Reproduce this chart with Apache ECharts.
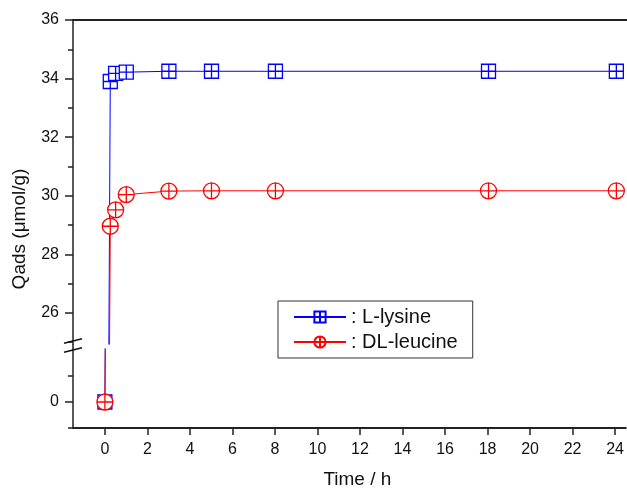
<!DOCTYPE html>
<html><head><meta charset="utf-8">
<script src="https://cdn.jsdelivr.net/npm/echarts@6/dist/echarts.min.js"></script>
<style>html,body{margin:0;padding:0;background:#fff}#c{width:627px;height:490px}</style>
</head><body><div id="c"></div>
<script>
// ---- data ----
const timeH   = [0, 0.25, 0.5, 1, 3, 5, 8, 18, 24];
const lysine  = [0, 33.9, 34.18, 34.22, 34.25, 34.25, 34.25, 34.25, 34.25];
const leucine = [0, 28.96, 29.52, 30.04, 30.16, 30.17, 30.17, 30.17, 30.17];
const seriesNames = ['L-lysine', 'DL-leucine'];
const xTicks = [0, 2, 4, 6, 8, 10, 12, 14, 16, 18, 20, 22, 24];
const yUpperMajor = [26, 28, 30, 32, 34, 36];
const yUpperMinor = [25, 27, 29, 31, 33, 35];
const yLowerMajor = [0];
const yLowerMinor = [-1, 1];
const xRange = [-1.5, 24.5];
const yUpperRange = [24.94, 36];
const yLowerRange = [-1, 2.04];

const FONT = "'Liberation Sans', Arial, sans-serif";
const AX = '#222';
const SQ = 'path://M0,0H10V10H0Z M5,0V10 M0,5H10';
const CI = 'path://M10,5C10,7.76 7.76,10 5,10C2.24,10 0,7.76 0,5C0,2.24 2.24,0 5,0C7.76,0 10,2.24 10,5Z M5,0V10 M0,5H10';

const lysPts = timeH.map((t, i) => [t, lysine[i]]);
const leuPts = timeH.map((t, i) => [t, leucine[i]]);

function yMajor(grid, range, ticks) {
  return {
    type: 'value', gridIndex: grid, position: 'left', min: range[0], max: range[1],
    axisLine: { show: true, onZero: false, lineStyle: { color: AX, width: 1.5 } },
    axisTick: { show: true, customValues: ticks, length: 8, lineStyle: { color: AX, width: 1.5 } },
    axisLabel: { show: true, customValues: ticks, fontSize: 16, color: '#111', fontFamily: FONT, margin: 14 },
    splitLine: { show: false }
  };
}
function yMinor(grid, range, ticks) {
  return {
    type: 'value', gridIndex: grid, position: 'left', min: range[0], max: range[1],
    axisLine: { show: false, onZero: false },
    axisTick: { show: true, customValues: ticks, length: 5, lineStyle: { color: AX, width: 1.5 } },
    axisLabel: { show: false },
    splitLine: { show: false }
  };
}
function mkSeries(name, pts, xi, yi, color, sym, size) {
  return {
    name: name, type: 'line', xAxisIndex: xi, yAxisIndex: yi, data: pts,
    symbol: sym, symbolSize: size, showAllSymbol: true, clip: true,
    lineStyle: { color: color, width: 1 },
    itemStyle: { color: '#fff', borderColor: color, borderWidth: 1.3 },
    emphasis: { disabled: true }, animation: false
  };
}

const chart = echarts.init(document.getElementById('c'), null, { renderer: 'canvas' });
chart.setOption({
  animation: false,
  backgroundColor: '#fff',
  textStyle: { fontFamily: FONT },
  grid: [
    { left: 73, top: 20, width: 555, height: 324 },
    { left: 73, top: 349, width: 555, height: 79 }
  ],
  xAxis: [
    { type: 'value', gridIndex: 0, position: 'top', min: xRange[0], max: xRange[1],
      axisLine: { show: true, onZero: false, lineStyle: { color: AX, width: 2 } },
      axisTick: { show: false }, axisLabel: { show: false }, splitLine: { show: false } },
    { type: 'value', gridIndex: 1, position: 'bottom', min: xRange[0], max: xRange[1],
      axisLine: { show: true, onZero: false, lineStyle: { color: AX, width: 2 } },
      axisTick: { show: true, customValues: xTicks, length: 7, lineStyle: { color: AX, width: 1.5 } },
      axisLabel: { show: true, customValues: xTicks, fontSize: 16, color: '#111', fontFamily: FONT, margin: 14 },
      splitLine: { show: false },
      name: 'Time / h', nameLocation: 'middle', nameGap: 42,
      nameTextStyle: { fontSize: 19, color: '#111', fontFamily: FONT, padding: [0, 0, 0, 16] } }
  ],
  yAxis: [
    yMajor(0, yUpperRange, yUpperMajor),
    yMinor(0, yUpperRange, yUpperMinor),
    yMajor(1, yLowerRange, yLowerMajor),
    yMinor(1, yLowerRange, yLowerMinor)
  ],
  legend: {
    data: seriesNames, orient: 'vertical', left: 278, top: 301,
    padding: [6, 15, 6, 15], itemGap: 5, itemWidth: 52, itemHeight: 14,
    borderColor: '#333', borderWidth: 1, backgroundColor: '#fff',
    formatter: ': {name}',
    textStyle: { fontSize: 20, color: '#111', fontFamily: FONT }
  },
  series: [
    mkSeries(seriesNames[0], lysPts, 0, 0, '#0000ff', SQ, 14),
    mkSeries(seriesNames[0], lysPts, 1, 2, '#0000ff', SQ, 14),
    mkSeries(seriesNames[1], leuPts, 0, 0, '#ff0000', CI, 16),
    mkSeries(seriesNames[1], leuPts, 1, 2, '#ff0000', CI, 16)
  ]
});

// axis break decoration
const pU = chart.convertToPixel({ xAxisIndex: 0, yAxisIndex: 0 }, [xRange[0], yUpperRange[0]]);
const pL = chart.convertToPixel({ xAxisIndex: 1, yAxisIndex: 2 }, [xRange[0], yLowerRange[1]]);
const ax = pU[0], yc = (pU[1] + pL[1]) / 2 - 1;
const brk = (dy) => ({ type: 'line', silent: true, z: 100,
  shape: { x1: ax - 9, y1: yc + dy + 2.2, x2: ax + 9, y2: yc + dy - 2.2 },
  style: { stroke: '#111', lineWidth: 1.5 } });
chart.setOption({
  graphic: [
    { type: 'line', silent: true, z: 100, shape: { x1: ax, y1: pU[1], x2: ax, y2: pL[1] },
      style: { stroke: AX, lineWidth: 1.5 } },
    brk(-4.5), brk(4.5),
    { type: 'text', silent: true, x: 20, y: 229, rotation: Math.PI / 2,
      style: { text: 'Qads (μmol/g)', fontSize: 19, fontFamily: FONT, fill: '#111',
               textAlign: 'center', textVerticalAlign: 'middle' } }
  ]
});
</script></body></html>
